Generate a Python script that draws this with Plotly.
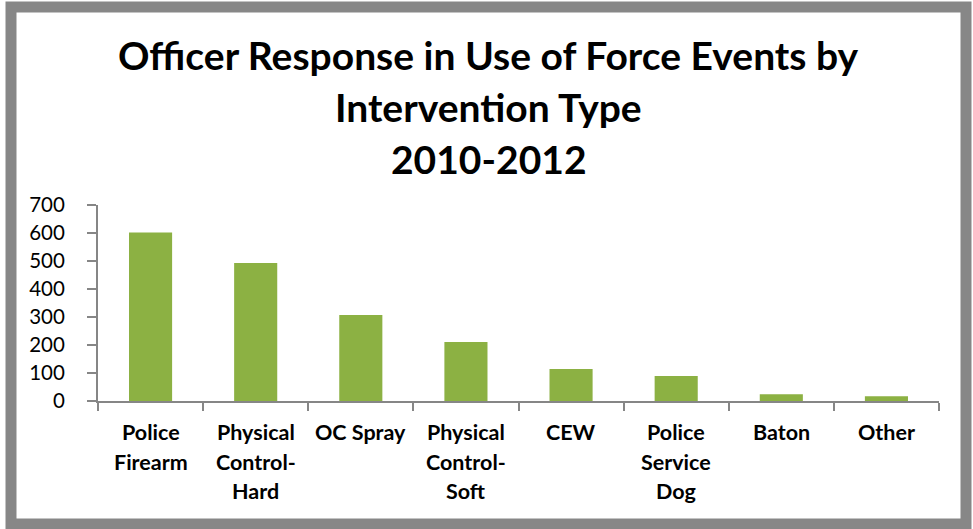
import plotly.graph_objects as go

categories = ["Police Firearm", "Physical Control-Hard", "OC Spray", "Physical Control-Soft",
              "CEW", "Police Service Dog", "Baton", "Other"]
label_lines = [["Police", "Firearm"], ["Physical", "Control-", "Hard"], ["OC Spray"],
               ["Physical", "Control-", "Soft"], ["CEW"], ["Police", "Service", "Dog"],
               ["Baton"], ["Other"]]
values = [602, 493, 307, 211, 114, 89, 24, 17]
title_lines = ["Officer Response in Use of Force Events by", "Intervention Type", "2010-2012"]
y_ticks = [0, 100, 200, 300, 400, 500, 600, 700]

W, H = 973, 529
ML, MR, MT, MB = 98, 34, 205, 128
PW = W - ML - MR
PH = H - MT - MB

def px_x(p):
    return (p - ML) / PW

def px_y(p):
    return (H - MB - p) / PH

FONT = "Lato, 'Open Sans', sans-serif"
AXIS = "#868686"

fig = go.Figure()
fig.add_trace(go.Bar(
    x=categories, y=values,
    marker=dict(color="#8CB143", line=dict(width=0)),
    width=0.41,
    hoverinfo="x+y",
))

annotations = []
for cat, lines in zip(categories, label_lines):
    for i, line in enumerate(lines):
        annotations.append(dict(
            x=cat, y=0, xref="x", yref="y", text="<b>%s</b>" % line,
            showarrow=False, yanchor="middle", xanchor="center",
            yshift=-(31 + 29.5 * i),
            font=dict(family=FONT, size=21.5, color="black"),
        ))

title_y = [55, 107, 159]
for t, py in zip(title_lines, title_y):
    annotations.append(dict(
        x=px_x(W / 2 + 2), y=px_y(py), xref="paper", yref="paper",
        text="<b>%s</b>" % t, showarrow=False, xanchor="center", yanchor="middle",
        font=dict(family=FONT, size=39, color="black"),
    ))

fig.update_layout(
    width=W, height=H,
    margin=dict(l=ML, r=MR, t=MT, b=MB, pad=0),
    paper_bgcolor="white", plot_bgcolor="white",
    showlegend=False,
    annotations=annotations,
    shapes=[dict(
        type="rect", xref="paper", yref="paper",
        x0=px_x(11), x1=px_x(966), y0=px_y(7), y1=px_y(524),
        line=dict(color="#878787", width=11), fillcolor="rgba(0,0,0,0)", layer="below",
    )],
    xaxis=dict(
        type="category", range=[-0.5, 7.5], showticklabels=False,
        showline=True, linecolor=AXIS, linewidth=2,
        ticks="outside", tickson="boundaries", ticklen=8, tickcolor=AXIS, tickwidth=1.5,
        showgrid=False, zeroline=False,
    ),
    yaxis=dict(
        range=[0, 700], tickvals=y_ticks, showline=True, linecolor=AXIS, linewidth=2,
        ticks="outside", ticklen=9, tickcolor=AXIS, tickwidth=1.5,
        showgrid=False, zeroline=False,
        tickfont=dict(family=FONT, size=20.5, color="black"),
        ticklabelstandoff=18,
    ),
)

fig.write_html(
    "out.html",
    config={"displayModeBar": False},
    post_script="document.body.style.margin='0';document.body.style.overflow='hidden';",
)
